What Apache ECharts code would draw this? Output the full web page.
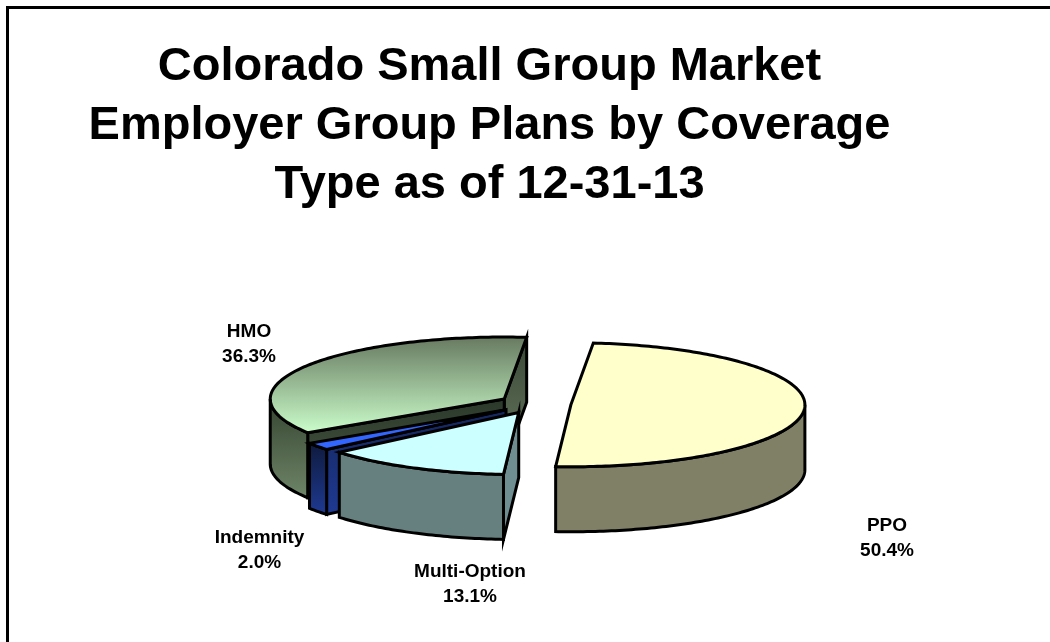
<!DOCTYPE html>
<html>
<head>
<meta charset="utf-8">
<style>html,body{margin:0;padding:0;background:#fff}#chart{width:1050px;height:642px}</style>
<script src="https://cdn.jsdelivr.net/npm/echarts@6/dist/echarts.min.js"></script>
</head>
<body>
<div id="chart"></div>
<script>
// Coverage types, clockwise from the first slice
const categories = ['PPO', 'Multi-Option', 'Indemnity', 'HMO'];
const shares = [50.4, 13.1, 2.0, 36.3];
const percentLabels = ['50.4%', '13.1%', '2.0%', '36.3%'];
const titleLines = ['Colorado Small Group Market', 'Employer Group Plans by Coverage', 'Type as of 12-31-13'];

// Painted back to front, so the nearer slices overlap the farther ones
const paintOrder = [3, 2, 1, 0];

const labelAnchors = [[887, 538.5], [470, 584], [259.5, 550], [249, 344]];

const grad = (a, b) => new echarts.graphic.LinearGradient(0, 0, 0, 1, [
  { offset: 0, color: a }, { offset: 1, color: b }
]);

const palette = [
  { top: '#ffffcc', wall: '#808066', cutA: '#808066' },
  { top: '#ccffff', wall: '#668080', cutA: grad('#6f8e92', '#6f8e92') },
  { top: '#3366ff', wall: grad('#0e1a3c', '#1f3a93'), cutA: grad('#14265c', '#1f3a93') },
  { top: grad('#66785f', '#ccffcc'), wall: grad('#34432f', '#6f8669'), cutA: grad('#2a382a', '#4c5c46'), cutB: grad('#394736', '#67795f') }
];

// Projection of the tilted disc
const CX = 535, CY = 404, RX = 234, RY = 62, DEPTH = 65, EXPLODE = 36;
const FIRST_ANGLE = 275.5;
const total = shares.reduce((s, v) => s + v, 0);

const rad = d => d * Math.PI / 180;

function sliceAngles(i) {
  let from = FIRST_ANGLE;
  for (let k = 0; k < i; k++) from += shares[k] / total * 360;
  return [from, from + shares[i] / total * 360];
}

function renderSlice(params, api) {
  const i = api.value(0);
  const [a0, a1] = sliceAngles(i);
  const mid = (a0 + a1) / 2;
  const cx = CX + EXPLODE * Math.cos(rad(mid));
  const cy = CY + EXPLODE * (RY / RX) * Math.sin(rad(mid));
  const rim = a => [cx + RX * Math.cos(rad(a)), cy + RY * Math.sin(rad(a))];
  const down = p => [p[0], p[1] + DEPTH];
  const colors = palette[i];
  const stroke = { stroke: '#000', lineWidth: 3, miterLimit: 10 };
  const poly = (points, fill) => ({ type: 'polygon', shape: { points }, style: { fill, ...stroke } });
  const children = [];

  // A cut face shows only when its outward normal points at the viewer
  const cut = (a, normal, fill) => {
    if (Math.sin(rad(normal)) <= 0) return;
    const p = rim(a);
    children.push(poly([[cx, cy], p, down(p), [cx, cy + DEPTH]], fill));
  };
  cut(a1, a1 + 90, colors.cutB || colors.cutA);
  cut(a0, a0 - 90, colors.cutA);

  // Outer wall: the part of the arc on the near half of the disc
  const arcs = [];
  for (let turn = 0; turn <= 360; turn += 360) {
    const s = Math.max(a0, turn), e = Math.min(a1, turn + 180);
    if (e > s) arcs.push([s, e]);
  }
  arcs.forEach(([s, e]) => {
    const upper = [];
    for (let a = s; a < e; a += 1) upper.push(rim(a));
    upper.push(rim(e));
    const lower = upper.map(down).reverse();
    children.push(poly(upper.concat(lower), colors.wall));
  });

  // Top surface
  const top = [[cx, cy]];
  for (let a = a0; a < a1; a += 1) top.push(rim(a));
  top.push(rim(a1));
  children.push(poly(top, colors.top));

  return { type: 'group', children };
}

const labelFont = { fontFamily: '"Liberation Sans", Arial, sans-serif', fontWeight: 'bold', fontSize: 19, lineHeight: 25, fill: '#000', align: 'center', verticalAlign: 'middle' };

const chart = echarts.init(document.getElementById('chart'), null, { renderer: 'canvas' });
chart.setOption({
  animation: false,
  backgroundColor: '#fff',
  title: {
    text: titleLines.join('\n'),
    left: 484.5,
    top: 33,
    textAlign: 'center',
    textStyle: { fontFamily: '"Liberation Sans", Arial, sans-serif', fontWeight: 'bold', fontSize: 47, lineHeight: 59, color: '#000' }
  },
  graphic: [
    { type: 'polyline', shape: { points: [[7.5, 660], [7.5, 7.5], [1070, 7.5]] }, style: { fill: null, stroke: '#000', lineWidth: 3 } },
    ...categories.map((name, i) => ({
      type: 'text', x: labelAnchors[i][0], y: labelAnchors[i][1], z: 10,
      style: { text: name + '\n' + percentLabels[i], ...labelFont }
    }))
  ],
  series: [{
    type: 'custom',
    coordinateSystem: 'none',
    silent: true,
    renderItem: renderSlice,
    data: paintOrder.map(i => [i])
  }]
});
</script>
</body>
</html>
